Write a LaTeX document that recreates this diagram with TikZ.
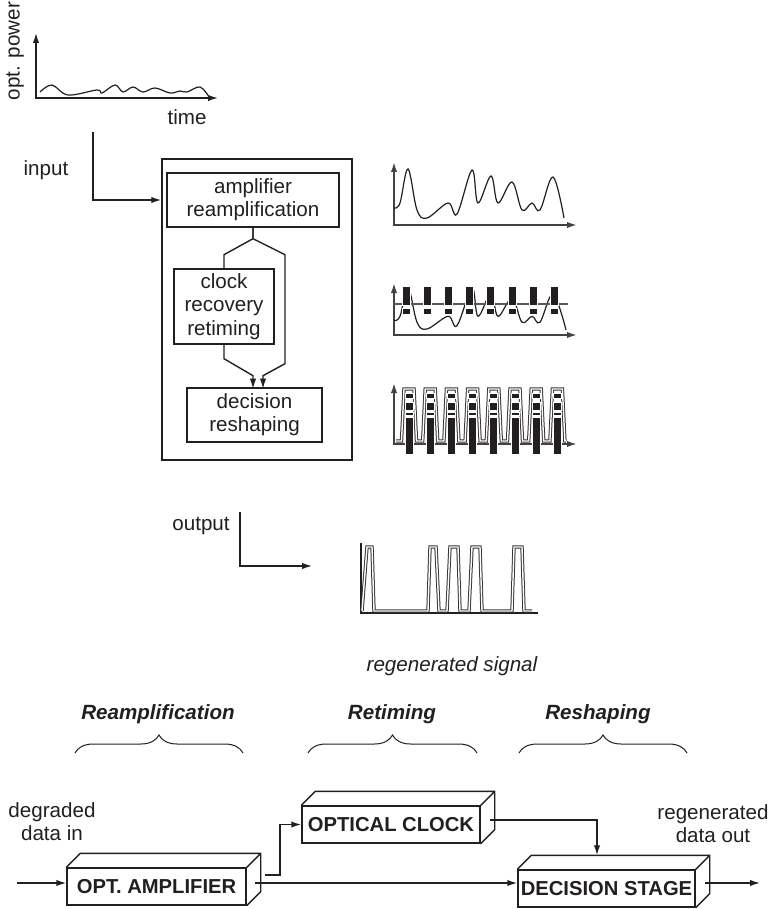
\documentclass[tikz,border=0pt]{standalone}
\usepackage{fontspec}
\setmainfont{Liberation Sans}
\usetikzlibrary{arrows.meta,calc,decorations.pathreplacing}
\definecolor{ink}{RGB}{35,31,32}

% front/top/right faces of a box drawn as a 3d block
\newcommand{\blockfaces}[1]{\draw (#1.north west) -- ++(14,-14) -- ($(#1.north east)+(14,-14)$) -- ($(#1.south east)+(14,-14)$) -- (#1.south east) (#1.north east) -- ++(14,-14);}

\begin{document}
\begin{tikzpicture}[x=0.5pt,y=-0.5pt,line width=0.7pt,color=ink,
		>={Latex[length=5pt,width=3.2pt]},
		every node/.style={font=\fontsize{10.3}{11.6}\selectfont},
		stage/.style={draw,inner sep=0pt,align=center},
		block/.style={draw,fill=white,inner sep=0pt,minimum height=18.5pt,font=\fontsize{10.1}{12}\selectfont\bfseries},
		axis/.style={<->,line width=0.9pt,color=ink!85},
		bar/.style={fill=ink,draw=white,line width=0.4pt},
		pulse/.style={draw=ink!90,line width=0.5pt,double=white,double distance=0.7pt},
		brc/.style={decorate,decoration={brace,amplitude=9pt},line width=0.5pt}]
	\useasboundingbox (0,0) rectangle (772,909);

	% input signal
	\draw [<->] (36,33) |- (218,98);
	\draw [line width=0.6pt] plot [smooth,tension=0.6] coordinates {(40,92) (52,85) (68,95) (97,90) (102,93) (115,85) (123,92) (133,87) (143,92) (155,88) (170,93) (180,91) (187,92) (200,87) (209,97)};
	\node [rotate=90] (power) at (15,51) {opt. power};
	\node (time) at (187,117) {time};
	\node (input) at (46,170) {input};

	% regenerator
	\node [stage,minimum width=95pt,minimum height=150.5pt] (regen) at (257,309.5) {};
	\node [stage,minimum width=86pt,minimum height=27pt] (amp) at (253,200) {amplifier\\reamplification};
	\node [stage,minimum width=50pt,minimum height=37.5pt] (clk) at (224,306.5) {clock\\recovery\\retiming};
	\node [stage,minimum width=67.5pt,minimum height=27pt] (dec) at (254.5,415) {decision\\reshaping};
	\coordinate (intop) at (93,132);
	\draw [->] (intop) |- (regen.west |- amp.west);
	\draw (amp.south) -- ++(0,11) -- ++(-29,16) -- (clk.north);
	\draw [->] (amp.south) -- ++(0,11) -- ++(32,16) -- ++(0,109) -- ++(-22,12) -- ++(0,13);
	\draw [->] (clk.south) -- ++(0,14) -- ++(29,17) -- ++(0,13);

	% degraded signal
	\draw [axis] (394,162) |- (577,225);
	\draw [line width=0.6pt] plot [smooth,tension=0.6] coordinates {(394,208) (400,203) (408,169) (417,210) (427,218) (448,203) (457,214) (472,170) (478,203) (491,176) (498,203) (512,182) (522,210) (532,203) (540,210) (553,177) (564,218)};

	% retimed signal with clock
	\draw [axis] (394,283) |- (577,335);
	\draw [line width=0.6pt] plot [smooth,tension=0.6] coordinates {(394,320.5) (400,316.3) (408,287.4) (417,322.2) (427,329) (448,316.3) (457,325.6) (472,288.2) (478,316.3) (491,293.4) (498,316.3) (512,298.4) (522,322.2) (532,316.3) (540,322.2) (553,294.2) (566,330)};
	\draw [line width=1pt,color=ink!75] (394,304) -- (568,304);
	\foreach \k in {0,...,7} {
		\path [bar] ({406+21.2*\k-4},286) rectangle ++(8,19);
		\path [bar] ({406+21.2*\k-4},308) rectangle ++(8,6);
	}

	% reshaped signal
	\draw [axis] (394,383) |- (577,444);
	\draw [pulse] (396,441) \foreach \k in {0,...,7} { -- ({409+21.2*\k-7.5},441) -- ({409+21.2*\k-5},389) -- ({409+21.2*\k+5},389) -- ({409+21.2*\k+7.5},441) } -- (566,441);
	\foreach \k in {0,...,7} {
		\path [bar] ({409+21.2*\k-4},393) rectangle ++(8,5);
		\path [bar] ({409+21.2*\k-4},402) rectangle ++(8,8);
		\path [bar] ({409+21.2*\k-4},412) rectangle ++(8,3);
		\path [bar] ({409+21.2*\k-4},417) rectangle ++(8,37);
	}

	% output signal
	\node (output) at (201,526) {output};
	\coordinate (outtop) at (240,512);
	\coordinate (outend) at (312,566);
	\draw [->] (outtop) |- (outend);
	\draw (361,543) |- (538,613);
	\draw [pulse] (362,611) -- (367,547) -- (372,547) -- (374,611) -- (428,611) -- (430,547) -- (436,547) -- (439,611) -- (447,611) -- (450,547) -- (458,547) -- (460,611) -- (469,611) -- (472,547) -- (480,547) -- (482,611) -- (512,611) -- (514,547) -- (522,547) -- (524,611) -- (532,611);
	\node [font=\fontsize{10.3}{11.6}\selectfont\itshape] (regsig) at (452,666) {regenerated signal};

	% functions
	\node [font=\fontsize{10.3}{11.6}\selectfont\bfseries\itshape] (reamp) at (158,714) {Reamplification};
	\node [font=\fontsize{10.3}{11.6}\selectfont\bfseries\itshape] (retim) at (392,714) {Retiming};
	\node [font=\fontsize{10.3}{11.6}\selectfont\bfseries\itshape] (reshp) at (598,714) {Reshaping};
	\draw [brc] (75,753) -- (243,753);
	\draw [brc] (308,753) -- (477,753);
	\draw [brc] (519,753) -- (687,753);

	% block diagram
	\node [block,minimum width=89.5pt] (oamp) at (156.5,886.5) {OPT. AMPLIFIER};
	\node [block,minimum width=89pt] (oclk) at (391,824.5) {OPTICAL CLOCK};
	\node [block,minimum width=88.5pt] (ostage) at (606.5,888.5) {DECISION STAGE};
	\blockfaces{oamp}
	\blockfaces{oclk}
	\blockfaces{ostage}
	\node [align=center] (datain) at (52,822) {degraded\\data in};
	\node [align=center] (dataout) at (713,824) {regenerated\\data out};
	\coordinate (src) at (17,883);
	\coordinate (ampout) at (255,883);
	\coordinate (amptap) at (265,875);
	\coordinate (clkout) at (490,820);
	\coordinate (decout) at (705,883);
	\coordinate (sink) at (760,883);
	\draw [->] (src) -- (src -| oamp.west);
	\draw [->] (ampout) -- (ampout -| ostage.west);
	\draw [->] (amptap) -- ++(15,0) |- (oclk.west);
	\draw [->] (clkout) -| ([xshift=-4.75pt,yshift=7pt]ostage.north);
	\draw [->] (decout) -- (sink);
\end{tikzpicture}
\end{document}
